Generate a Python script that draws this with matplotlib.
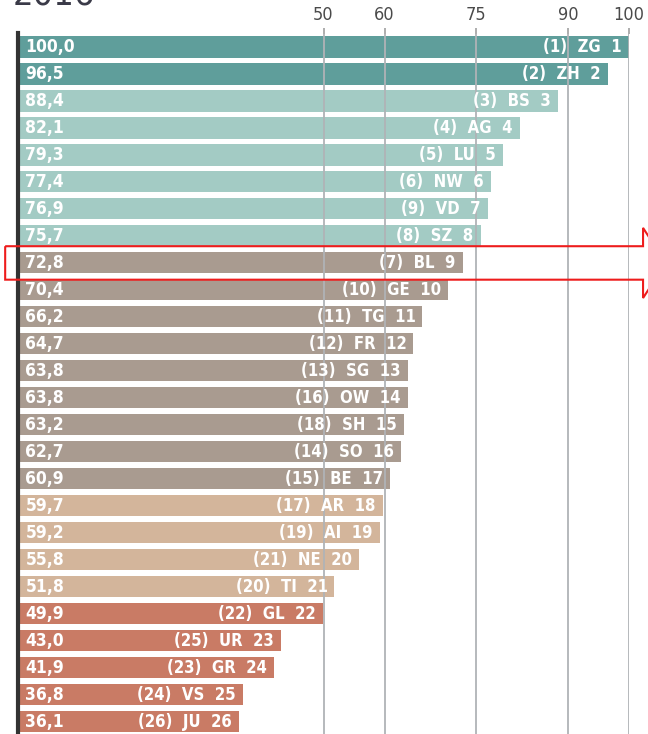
import matplotlib.pyplot as plt
from matplotlib.patches import Polygon

plt.rcParams['font.family'] = ['DejaVu Sans']
plt.rcParams['font.stretch'] = 'condensed'

# Canton index 2016, ranks and previous-year ranks
cantons = ["ZG", "ZH", "BS", "AG", "LU", "NW", "VD", "SZ", "BL", "GE", "TG", "FR", "SG",
           "OW", "SH", "SO", "BE", "AR", "AI", "NE", "TI", "GL", "UR", "GR", "VS", "JU"]
values = [100.0, 96.5, 88.4, 82.1, 79.3, 77.4, 76.9, 75.7, 72.8, 70.4, 66.2, 64.7, 63.8,
          63.8, 63.2, 62.7, 60.9, 59.7, 59.2, 55.8, 51.8, 49.9, 43.0, 41.9, 36.8, 36.1]
prev_rank = [1, 2, 3, 4, 5, 6, 9, 8, 7, 10, 11, 12, 13,
             16, 18, 14, 15, 17, 19, 21, 20, 22, 25, 23, 24, 26]
groups = [0, 0, 1, 1, 1, 1, 1, 1, 2, 2, 2, 2, 2,
          2, 2, 2, 2, 3, 3, 3, 3, 4, 4, 4, 4, 4]
ticks = [50, 60, 75, 90, 100]
highlight = "BL"

group_colors = ["#5f9e9b", "#a3cbc4", "#a99b90", "#d3b59b", "#c97b65"]

fig = plt.figure(figsize=(6.48, 7.34), dpi=100)
ax = fig.add_axes([18 / 648, 0, 611 / 648, 700.5 / 734])

n = len(cantons)
ypos = list(range(n))
ax.barh(ypos, values, height=0.78, color=[group_colors[g] for g in groups], zorder=1)

# grid on top of the bars
for t in ticks:
    ax.axvline(t, color="#b0b3b6", lw=1.3, zorder=2)

for i, (c, v, p) in enumerate(zip(cantons, values, prev_rank)):
    ax.text(1.2, i, f"{v:.1f}".replace(".", ","), color="white", fontsize=12.5,
            fontweight="bold", va="center", ha="left", zorder=3)
    ax.annotate(f"({p})  {c}  {i + 1}", xy=(v, i), xytext=(-5, 0),
                textcoords="offset points", color="white", fontsize=12,
                fontweight="bold", va="center", ha="right", zorder=3)

ax.set_xlim(0, 100)
ax.set_ylim(n - 0.55, -0.5)
ax.set_yticks([])
ax.set_xticks(ticks)
ax.xaxis.tick_top()
ax.tick_params(axis="x", length=4, width=1.2, color="#a0a0a0", labelsize=13,
               labelcolor="#4a4a4a", pad=2.5)
for s in ["top", "right", "bottom"]:
    ax.spines[s].set_visible(False)
ax.spines["left"].set_color("#333333")
ax.spines["left"].set_linewidth(3)
ax.spines["left"].set_zorder(4)

# red arrow around the highlighted canton
k = cantons.index(highlight)
x0, x1, x2 = -2.1, 102.3, 106
h, hh = 0.62, 1.3
arrow = Polygon([(x0, k - h), (x1, k - h), (x1, k - hh), (x2, k),
                 (x1, k + hh), (x1, k + h), (x0, k + h)],
                closed=True, fill=False, edgecolor="#ee1c1c", lw=1.5,
                clip_on=False, zorder=5)
ax.add_patch(arrow)

fig.text(0.02, 1.008, "2016", fontsize=26, color="#3a3a48", va="center", ha="left")

fig.savefig("out.png", dpi=100)
